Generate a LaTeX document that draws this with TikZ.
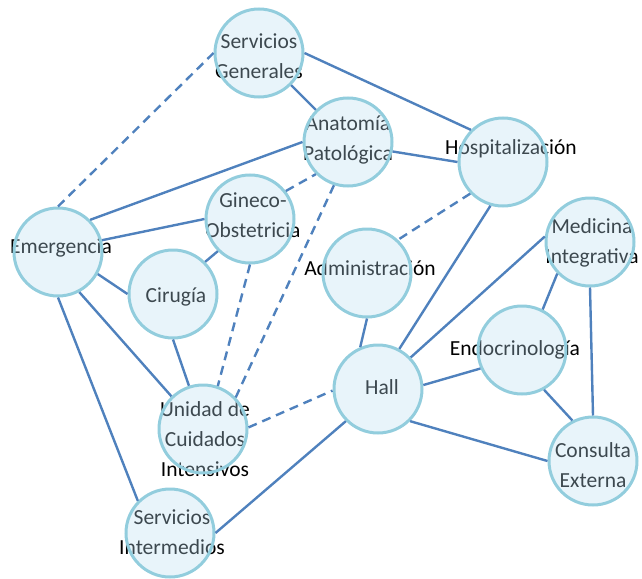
\documentclass[tikz,border=0pt]{standalone}
\usepackage{fontspec}
\setmainfont{Carlito}
\definecolor{edgeblue}{RGB}{79,129,189}
\definecolor{ringblue}{RGB}{146,205,221}
\definecolor{fillblue}{RGB}{185,221,240}
\begin{document}
\begin{tikzpicture}[x=1pt,y=-1pt,
  lbl/.style={align=center,text=black,font=\fontsize{21.5}{30}\selectfont,inner sep=0pt},
  ring/.style={circle,draw=ringblue,line width=3pt,fill=fillblue,fill opacity=0.33,draw opacity=1,minimum size=88pt,inner sep=0pt},
  link/.style={draw=edgeblue,line width=2.4pt},
  dlink/.style={draw=edgeblue,line width=2.4pt,dash pattern=on 9pt off 6pt}]
\useasboundingbox (0,0) rectangle (642,578);
% labels (under the rings)
\node[lbl] (tsg) at (259,56) {Servicios\\Generales};
\node[lbl] (tap) at (348,140) {Anatomía\\Patológica};
\node[lbl] (tho) at (511,149) {Hospitalización};
\node[lbl] (tgi) at (253,215) {Gineco-\\Obstetricia};
\node[lbl] (tem) at (61,248) {Emergencia};
\node[lbl] (tci) at (176,297) {Cirugía};
\node[lbl] (tad) at (370,268) {Administración};
\node[lbl] (tmi) at (592,243) {Medicina\\Integrativa};
\node[lbl] (ten) at (515,350) {Endocrinología};
\node[lbl] (tha) at (382,387) {Hall};
\node[lbl] (tce) at (593,465) {Consulta\\Externa};
\node[lbl] (tuc) at (205,439) {Unidad de\\Cuidados\\Intensivos};
\node[lbl] (tsi) at (172,532) {Servicios\\Intermedios};
% rings
\node[ring] (sg) at (259,53) {};
\node[ring] (ap) at (348,142) {};
\node[ring] (ho) at (503,162) {};
\node[ring] (gi) at (250,219) {};
\node[ring] (em) at (58,252) {};
\node[ring] (ci) at (173,294) {};
\node[ring] (ad) at (367,273) {};
\node[ring] (mi) at (590,242) {};
\node[ring] (en) at (522,350) {};
\node[ring] (ha) at (378,389) {};
\node[ring] (ce) at (593,461) {};
\node[ring] (uc) at (203,429) {};
\node[ring] (si) at (170,533) {};
% solid links
\draw[link] (sg.0) -- (ho.135);
\draw[link] (sg.-45) -- (ap.135);
\draw[link] (em.45) -- (ap.180);
\draw[link] (ap.-12) -- (ho.180);
\draw[link] (em.15) -- (gi.180);
\draw[link] (gi.225) -- (ci.45);
\draw[link] (em.-29) -- (ci.180);
\draw[link] (em.-62) -- (uc.134);
\draw[link] (em.270) -- (si.135);
\draw[link] (ci.270) -- (uc.108);
\draw[link] (ho.254) -- (ha.62);
\draw[link] (ad.270) -- (ha.113);
\draw[link] (ha.44) -- (mi.173);
\draw[link] (ha.5) -- (en.204);
\draw[link] (ha.-45) -- (ce.180);
\draw[link] (ha.225) -- (si.0);
\draw[link] (mi.224) -- (en.63);
\draw[link] (mi.270) -- (ce.90);
\draw[link] (en.-61) -- (ce.117);
% dashed links
\draw[dlink] (em.90) -- (sg.180);
\draw[dlink] (gi.38) -- (ap.225);
\draw[dlink] (gi.270) -- (uc.71);
\draw[dlink] (ap.252) -- (uc.44);
\draw[dlink] (ho.224) -- (ad.47);
\draw[dlink] (uc.2) -- (ha.182);
\end{tikzpicture}
\end{document}
